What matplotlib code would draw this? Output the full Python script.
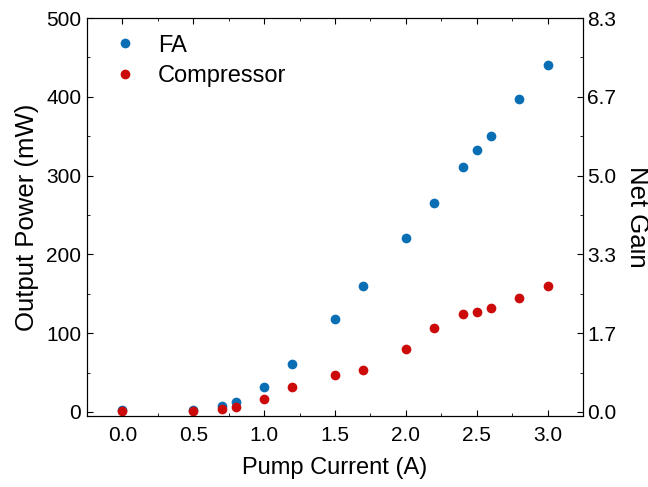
import numpy as np
import matplotlib.pyplot as plt
from matplotlib.ticker import MultipleLocator, FormatStrFormatter

plt.rcParams['font.family'] = ['Liberation Sans', 'DejaVu Sans']

current = [0.0, 0.5, 0.7, 0.8, 1.0, 1.2, 1.5, 1.7, 2.0, 2.2, 2.4, 2.5, 2.6, 2.8, 3.0]
fa_power = [3, 3, 7, 12.5, 31.5, 61, 118, 160, 221, 265, 311, 332, 350, 397, 440]
comp_power = [1.5, 1.5, 3.7, 6, 16, 31.5, 47, 53.5, 80, 107, 124, 127, 132, 145, 160]

gain_scale = 60.0  # net gain = power / 60

fig, ax = plt.subplots(figsize=(6.48, 4.87), dpi=100)
fig.subplots_adjust(left=0.134, right=0.9, top=0.963, bottom=0.146)

ax.plot(current, fa_power, 'o', color='#0a6eb4', ms=7, mec='none', label='FA')
ax.plot(current, comp_power, 'o', color='#cc0a0a', ms=7, mec='none', label='Compressor')

ax.set_xlim(-0.25, 3.25)
ax.set_ylim(-5, 500)
ax.xaxis.set_major_locator(MultipleLocator(0.5))
ax.xaxis.set_minor_locator(MultipleLocator(0.25))
ax.xaxis.set_major_formatter(FormatStrFormatter('%.1f'))
ax.yaxis.set_major_locator(MultipleLocator(100))
ax.yaxis.set_minor_locator(MultipleLocator(50))
ax.tick_params(which='both', direction='in', top=True, labelsize=15)
ax.tick_params(which='major', length=4)
ax.tick_params(which='minor', length=2.5)
ax.tick_params(axis='x', pad=7)
ax.tick_params(axis='y', pad=4)
ax.set_xlabel('Pump Current (A)', fontsize=17, labelpad=9)
ax.set_ylabel('Output Power (mW)', fontsize=18.5, labelpad=5)

ax2 = ax.twinx()
ax2.set_ylim(-5 / gain_scale, 500 / gain_scale)
ax2.set_yticks(np.arange(0, 501, 100) / gain_scale)
ax2.set_yticks(np.arange(50, 501, 100) / gain_scale, minor=True)
ax2.yaxis.set_major_formatter(FormatStrFormatter('%.1f'))
ax2.tick_params(which='both', direction='in', labelsize=15, pad=3)
ax2.tick_params(which='major', length=4)
ax2.tick_params(which='minor', length=2.5)
ax2.set_ylabel('Net Gain', fontsize=18.5, rotation=270, va='bottom', labelpad=6)

ax.legend(loc='upper left', frameon=False, fontsize=17, handlelength=1.8,
          handletextpad=0.5, borderaxespad=0.3, labelspacing=0.35)

fig.savefig('out.png')
